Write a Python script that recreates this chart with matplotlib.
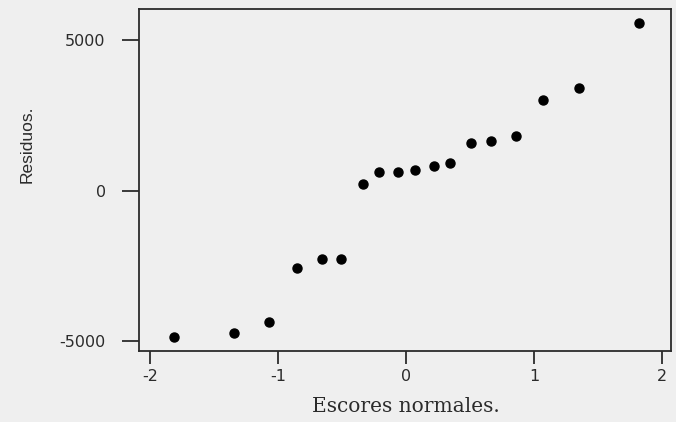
import numpy as np
import matplotlib
matplotlib.use("Agg")
import matplotlib.pyplot as plt

# escores normales (eje x) y residuos (eje y)
escores = [-1.81, -1.34, -1.07, -0.85, -0.66, -0.51, -0.34, -0.21, -0.06,
           0.07, 0.22, 0.34, 0.51, 0.66, 0.86, 1.07, 1.35, 1.82]
residuos = [-4870, -4730, -4370, -2570, -2270, -2270, 230, 600, 600,
            670, 800, 900, 1570, 1630, 1800, 3000, 3400, 5570]

xticks = [-2, -1, 0, 1, 2]
yticks = [-5000, 0, 5000]

bg = "#efefef"
ink = "#2b2b2b"

fig = plt.figure(figsize=(6.76, 4.22), dpi=100, facecolor=bg)
ax = fig.add_axes([139 / 676, 71 / 422, 532 / 676, 342 / 422], facecolor=bg)

ax.plot(escores, residuos, "o", color="black", markersize=6.5, linestyle="none")

ax.set_xlim(-2.086, 2.07)
ax.set_ylim(-5330, 6030)
ax.set_xticks(xticks)
ax.set_yticks(yticks)
ax.set_xticklabels([str(t) for t in xticks])
ax.set_yticklabels([str(t) for t in yticks])

for s in ax.spines.values():
    s.set_color(ink)
    s.set_linewidth(1.3)

ax.tick_params(axis="y", direction="out", length=12, width=1.3, pad=12,
               colors=ink, labelsize=11.5)
ax.tick_params(axis="x", direction="out", length=9, width=1.3, pad=4,
               colors=ink, labelsize=11.5)

fig.text(406 / 676, 1 - 406 / 422, "Escores normales.", ha="center", va="center",
         fontsize=14.5, family="DejaVu Serif", color=ink)
fig.text(27 / 676, 1 - 144 / 422, "Residuos.", ha="center", va="center",
         rotation=90, fontsize=12.5, family="Liberation Sans", color=ink)

fig.savefig("out.png", dpi=100, facecolor=bg)
